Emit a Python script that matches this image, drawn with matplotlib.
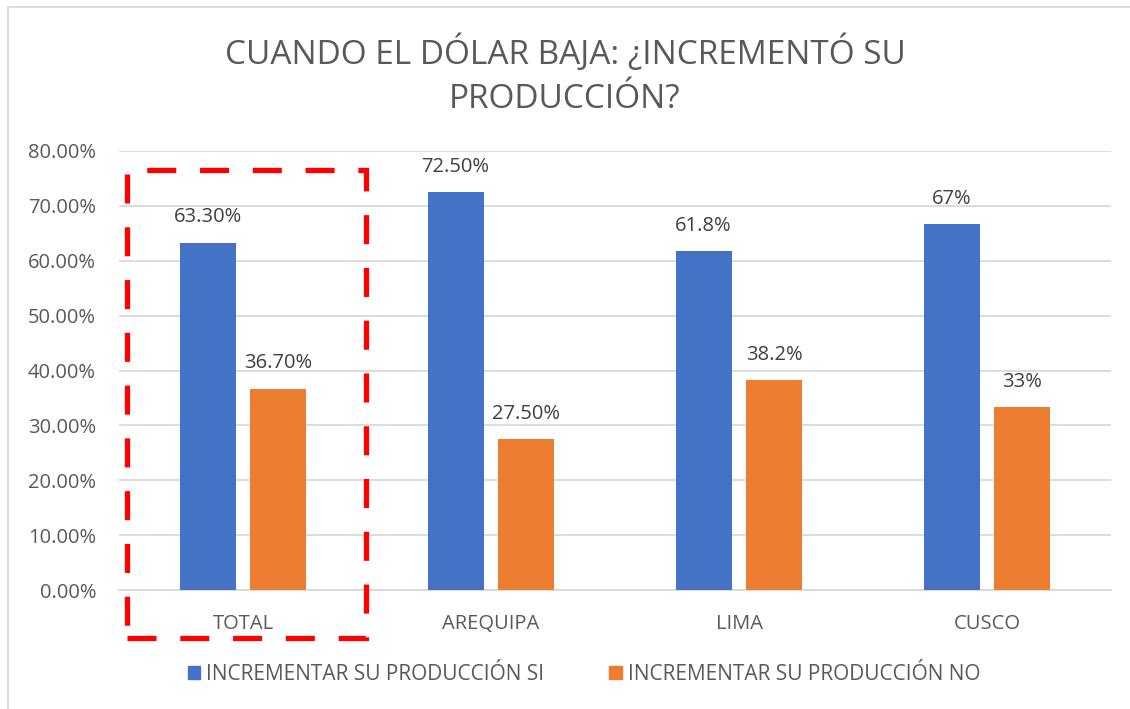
import matplotlib
matplotlib.use("Agg")
import matplotlib.pyplot as plt
from matplotlib.patches import Rectangle
from matplotlib.lines import Line2D
import numpy as np

categories = ["TOTAL", "AREQUIPA", "LIMA", "CUSCO"]
si_values = [63.3, 72.5, 61.8, 66.7]
no_values = [36.7, 27.5, 38.2, 33.3]
si_labels = ["63.30%", "72.50%", "61.8%", "67%"]
no_labels = ["36.70%", "27.50%", "38.2%", "33%"]
series_names = ["INCREMENTAR SU PRODUCCIÓN SI", "INCREMENTAR SU PRODUCCIÓN NO"]
yticks = [0, 10, 20, 30, 40, 50, 60, 70, 80]
title = "CUANDO EL DÓLAR BAJA: ¿INCREMENTÓ SU\nPRODUCCIÓN?"

plt.rcParams['font.family'] = ['Open Sans', 'DejaVu Sans']
TXT = "#595959"
BLUE = "#4472C4"
ORANGE = "#ED7D31"

W, H = 1130, 709
fig = plt.figure(figsize=(W / 100, H / 100), dpi=100)
ax = fig.add_axes([119 / W, 1 - 590 / H, (1111 - 119) / W, (590 - 151) / H])

x = np.arange(len(categories))
bw = 0.226
off = 0.143
ax.bar(x - off, si_values, bw, color=BLUE, zorder=3)
ax.bar(x + off, no_values, bw, color=ORANGE, zorder=3)
for xi, v, l in zip(x, si_values, si_labels):
    ax.text(xi - off, v + 2.8, l, ha="center", va="bottom", fontsize=14.5, color="#404040")
for xi, v, l in zip(x, no_values, no_labels):
    ax.text(xi + off, v + 2.8, l, ha="center", va="bottom", fontsize=14.5, color="#404040")

ax.set_xlim(-0.5, len(categories) - 0.5)
ax.set_ylim(0, 80)
ax.set_yticks(yticks)
ax.set_yticklabels([f"{t:.2f}%" for t in yticks], fontsize=14.5, color=TXT)
ax.set_xticks(x)
ax.set_xticklabels(categories, fontsize=14.5, color=TXT)
ax.tick_params(axis="y", length=0, pad=16.5)
ax.tick_params(axis="x", length=0, pad=17)
ax.grid(axis="y", color="#D9D9D9", linewidth=1.3, zorder=0)
for s in ["top", "right", "left"]:
    ax.spines[s].set_visible(False)
ax.spines["bottom"].set_color("#D9D9D9")
ax.spines["bottom"].set_linewidth(1.3)

# red dashed highlight around TOTAL
rect = Rectangle((-0.468, -8.7), 0.964, 85.2, fill=False, edgecolor="#FF0000",
                 linewidth=3.8, linestyle=(0, (5.5, 4.5)), clip_on=False, zorder=5)
ax.add_patch(rect)

fig.text(0.5, 1 - 75 / H, title, ha="center", va="center", fontsize=24,
         color=TXT, linespacing=1.45)

handles = [Rectangle((0, 0), 1, 1, color=BLUE), Rectangle((0, 0), 1, 1, color=ORANGE)]
leg = fig.legend(handles, series_names, loc="center", bbox_to_anchor=(584 / W, 1 - 674 / H),
                 ncol=2, frameon=False, fontsize=15, handlelength=0.6, handleheight=0.6,
                 handletextpad=0.3, columnspacing=3.1)
for t in leg.get_texts():
    t.set_color(TXT)

# chart border (left and top visible)
fig.add_artist(Line2D([7.5 / W, 7.5 / W], [0, 1 - 6.5 / H], transform=fig.transFigure,
                      color="#D9D9D9", linewidth=1.3))
fig.add_artist(Line2D([7.5 / W, 1], [1 - 6.5 / H, 1 - 6.5 / H], transform=fig.transFigure,
                      color="#D9D9D9", linewidth=1.3))

fig.savefig("out.png", dpi=100)
